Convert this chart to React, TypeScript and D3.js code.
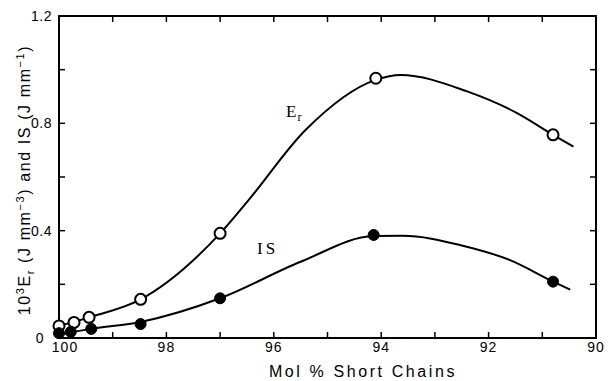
import React from 'react';
import * as d3 from 'd3';

// measured points (x = mol % short chains)
const erX = [100.0, 99.72, 99.44, 98.48, 97.0, 94.1, 90.8];
const erY = [0.045, 0.058, 0.077, 0.144, 0.39, 0.968, 0.757];
const isX = [100.0, 99.78, 99.4, 98.48, 97.0, 94.14, 90.8];
const isY = [0.018, 0.023, 0.034, 0.052, 0.148, 0.384, 0.21];

// hand-drawn fit curves
const erFitX = [100.0, 99.44, 98.48, 97.0, 96.47, 95.41, 94.1, 93.64, 92.4, 91.47, 90.8, 90.42];
const erFitY = [0.045, 0.077, 0.144, 0.39, 0.514, 0.775, 0.962, 0.98, 0.919, 0.838, 0.757, 0.713];
const isFitX = [100.0, 99.4, 98.48, 97.0, 95.5, 94.14, 93.6, 92.5, 91.6, 90.8, 90.48];
const isFitY = [0.012, 0.034, 0.06, 0.148, 0.284, 0.38, 0.381, 0.345, 0.29, 0.21, 0.18];

const xTicks = [100, 98, 96, 94, 92, 90];
const xMinor = [99, 97, 95, 93, 91];
const yTicks = [0, 0.4, 0.8, 1.2];
const yTickLabels = ['0', '0.4', '0.8', '1.2'];
const yMinor = [0.2, 0.6, 1.0];

const W = 608;
const H = 381;
const left = 59, right = 596, top = 16, bottom = 338;

const App = () => {
  const x = d3.scaleLinear().domain([100, 90]).range([left, right]);
  const y = d3.scaleLinear().domain([0, 1.2]).range([bottom, top]);

  const line = d3.line<[number, number]>()
    .x(d => x(d[0]))
    .y(d => y(d[1]))
    .curve(d3.curveMonotoneX);

  const erFit = erFitX.map((v, i) => [v, erFitY[i]] as [number, number]);
  const isFit = isFitX.map((v, i) => [v, isFitY[i]] as [number, number]);

  const tl = 6; // tick length
  const sans = 'Liberation Sans, Arial, sans-serif';
  const serif = 'Liberation Serif, Times New Roman, serif';

  return (
    <div style={{ position: 'absolute', left: 0, top: 0 }}>
      <svg width={W} height={H} style={{ display: 'block', background: '#fff' }}>
        {/* frame */}
        <rect x={left} y={top} width={right - left} height={bottom - top}
          fill="none" stroke="#000" strokeWidth={2} />

        {/* x ticks, bottom and top, pointing inward */}
        {[...xTicks, ...xMinor].map(t => (
          <g key={'xt' + t}>
            <line x1={x(t)} x2={x(t)} y1={bottom} y2={bottom - tl} stroke="#000" strokeWidth={1.5} />
            <line x1={x(t)} x2={x(t)} y1={top} y2={top + tl} stroke="#000" strokeWidth={1.5} />
          </g>
        ))}
        {/* y ticks, left and right */}
        {[...yTicks, ...yMinor].map(t => (
          <g key={'yt' + t}>
            <line x1={left} x2={left + tl} y1={y(t)} y2={y(t)} stroke="#000" strokeWidth={1.5} />
            <line x1={right} x2={right - tl} y1={y(t)} y2={y(t)} stroke="#000" strokeWidth={1.5} />
          </g>
        ))}

        {/* tick labels */}
        {xTicks.map(t => (
          <text key={'xl' + t} x={x(t) + (t === 100 ? 6 : 0)} y={352} textAnchor="middle"
            fontFamily={sans} fontSize={14} letterSpacing={1}>{t}</text>
        ))}
        {yTicks.map((t, i) => (
          <text key={'yl' + t} x={t === 0 ? 44 : 52} y={y(t) + 5} textAnchor="end"
            fontFamily={sans} fontSize={14} letterSpacing={0.5}>{yTickLabels[i]}</text>
        ))}

        {/* axis titles */}
        <text x={363} y={377} textAnchor="middle" fontFamily={sans} fontSize={16} letterSpacing={2.6}>
          Mol % Short Chains
        </text>
        <text transform="translate(30,180) rotate(-90)" textAnchor="middle"
          fontFamily={sans} fontSize={16} letterSpacing={1.6}>
          10<tspan fontSize={11} dy={-6}>3</tspan>
          <tspan dy={6}>E</tspan><tspan fontSize={11} dy={4}>r</tspan>
          <tspan dy={-4}> (J mm</tspan><tspan fontSize={11} dy={-6}>−3</tspan>
          <tspan dy={6}>) and IS (J mm</tspan><tspan fontSize={11} dy={-6}>−1</tspan>
          <tspan dy={6}>)</tspan>
        </text>

        {/* fit curves */}
        <path d={line(erFit) ?? ''} fill="none" stroke="#000" strokeWidth={2} />
        <path d={line(isFit) ?? ''} fill="none" stroke="#000" strokeWidth={2} />

        {/* points */}
        {erX.map((v, i) => (
          <circle key={'er' + i} cx={x(v)} cy={y(erY[i])} r={5.5}
            fill="#fff" stroke="#000" strokeWidth={2} />
        ))}
        {isX.map((v, i) => (
          <circle key={'is' + i} cx={x(v)} cy={y(isY[i])} r={5.5}
            fill="#000" stroke="#000" strokeWidth={1} />
        ))}

        {/* curve labels */}
        <text x={286} y={117} fontFamily={serif} fontSize={17}>
          E<tspan fontSize={12} dy={4} dx={1}>r</tspan>
        </text>
        <text x={257} y={254} fontFamily={serif} fontSize={17} letterSpacing={3}>IS</text>
      </svg>
    </div>
  );
};

export default App;
